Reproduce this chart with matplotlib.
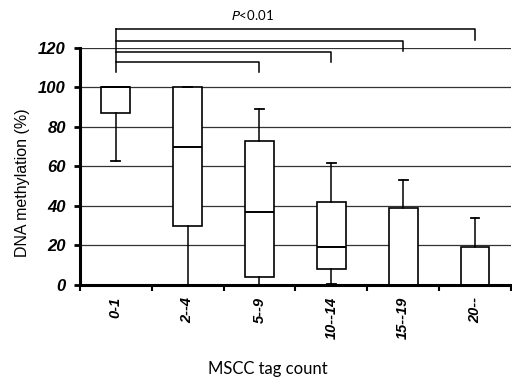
import matplotlib
matplotlib.use("Agg")
import matplotlib.pyplot as plt

# tag count groups and box statistics
groups = ["0-1", "2--4", "5--9", "10--14", "15--19", "20--"]
whis_lo = [63, 0, 0, 0.5, 0, 0]
q1 = [87, 30, 4, 8, 0, 0]
median = [100, 70, 37, 19, 0, 0]
q3 = [100, 100, 73, 42, 39, 19]
whis_hi = [100, 100, 89, 62, 53, 34]

# significance brackets: group 0 against each of these groups
bracket_to = [2, 3, 4, 5]
bracket_y = [113, 118, 123.5, 129.5]
bracket_drop = [108, 113, 118.5, 124]

fig = plt.figure(figsize=(5.12, 3.84), dpi=100)
ax = fig.add_axes([0.156, 0.258, 0.842, 0.617])

stats = []
for i, g in enumerate(groups):
    stats.append(dict(label=g, whislo=whis_lo[i], q1=q1[i], med=median[i],
                      q3=q3[i], whishi=whis_hi[i], fliers=[]))

ax.bxp(stats, positions=range(len(groups)), widths=0.4, capwidths=0.12,
       patch_artist=True, showfliers=False,
       boxprops=dict(facecolor="white", edgecolor="black", linewidth=1.2),
       medianprops=dict(color="black", linewidth=1.4),
       whiskerprops=dict(color="black", linewidth=1.1),
       capprops=dict(color="black", linewidth=1.3),
       zorder=3)

ax.set_xlim(-0.5, 5.45)
ax.set_ylim(0, 120)
ax.set_yticks(range(0, 121, 20))
ax.yaxis.grid(True, color="#333333", linewidth=0.9, zorder=0)
ax.set_axisbelow(True)

for s in ["top", "right"]:
    ax.spines[s].set_visible(False)
ax.spines["left"].set_linewidth(2.2)
ax.spines["bottom"].set_linewidth(2.2)

ax.set_xticks([x + 0.5 for x in range(-1, len(groups))])
ax.set_xticklabels([])
ax.tick_params(axis="x", length=4, width=1.5, direction="out")
ax.tick_params(axis="y", length=4, width=2, direction="out", pad=6)
for lab in ax.get_yticklabels():
    lab.set_fontweight("bold")
    lab.set_fontstyle("italic")
    lab.set_fontsize(12)
    lab.set_family("Liberation Sans")

for i, g in enumerate(groups):
    ax.text(i, -6, g, rotation=90, ha="center", va="top", fontsize=10.5,
            fontweight="bold", fontstyle="italic", family="Liberation Sans")

# brackets
ax.plot([0, 0], [bracket_drop[0], bracket_y[-1]], color="black", lw=1.1,
        clip_on=False)
for k, y, yd in zip(bracket_to, bracket_y, bracket_drop):
    ax.plot([0, k, k], [y, y, yd], color="black", lw=1.1, clip_on=False)
ax.text(1.9, 133, "$P$<0.01", ha="center", va="bottom", fontsize=9.5,
        family="Lato")

ax.set_ylabel("DNA methylation (%)", fontsize=11.5, family="Liberation Sans")
ax.yaxis.set_label_coords(-0.115, 0.43)
fig.text(0.524, 0.04, "MSCC tag count", ha="center", va="center",
         fontsize=12, family="Lato")

fig.savefig("out.png", dpi=100)
